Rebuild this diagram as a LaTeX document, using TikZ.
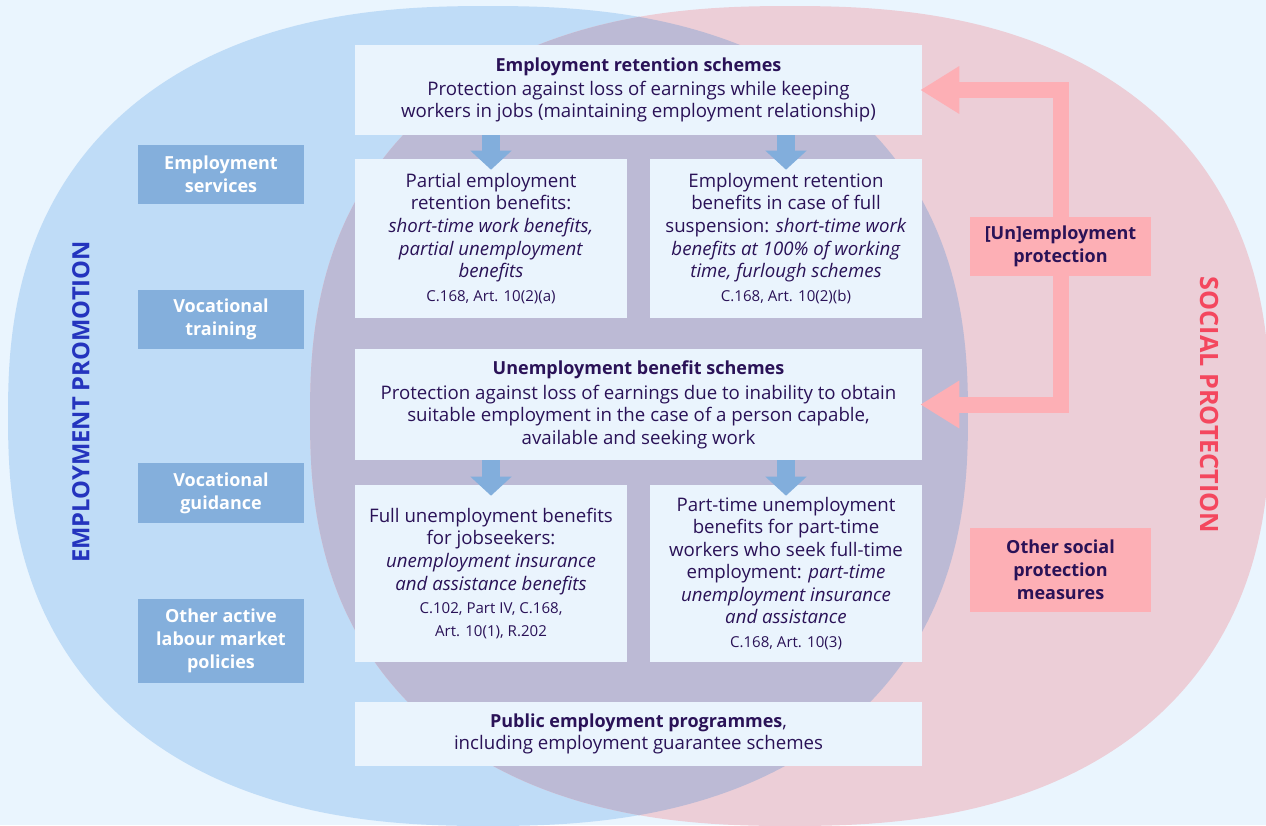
\documentclass[tikz,border=0pt]{standalone}
\usepackage{fontspec}
\setmainfont{Open Sans}
\usetikzlibrary{arrows.meta}
\definecolor{bg}{HTML}{EAF5FE}
\definecolor{blueE}{HTML}{BFDCF7}
\definecolor{pinkE}{HTML}{ECCED7}
\definecolor{overlapE}{HTML}{BCBAD5}
\definecolor{boxc}{HTML}{EAF4FD}
\definecolor{lboxc}{HTML}{84AFDC}
\definecolor{pboxc}{HTML}{FDAFB5}
\definecolor{txt}{HTML}{2A1257}
\definecolor{eptitle}{HTML}{2434BE}
\definecolor{sptitle}{HTML}{F4475E}
\definecolor{arrowblue}{HTML}{82AEDC}
\newcommand\mainf{\fontsize{14pt}{16.9pt}\selectfont}
\newcommand\headf{\fontsize{13.5pt}{17.3pt}\selectfont\bfseries}
\newcommand\smallf{\fontsize{11.3pt}{15pt}\selectfont}
\begin{document}
\begin{tikzpicture}[x=0.75pt,y=-0.75pt,
  wbox/.style={fill=boxc, inner sep=0pt, align=center, text=txt, font=\mainf},
  lbox/.style={fill=lboxc, inner sep=0pt, align=center, text=white, font=\headf,
    minimum width=124.5pt},
  pbox/.style={fill=pboxc, inner sep=0pt, align=center, text=txt, font=\headf,
    minimum width=135.75pt},
  barrow/.style={draw=arrowblue, line width=13.5pt,
    -{Triangle[width=30pt,length=14.25pt]}, shorten >=-8.25pt},
  parrow/.style={draw=pboxc, line width=12pt,
    -{Triangle[width=33.75pt,length=29.25pt]}, shorten >=-1.5pt}
]
\fill[bg] (0,0) rectangle (1266,825);
\useasboundingbox (0,0) rectangle (1266,825);
% circles
\fill[blueE] plot[domain=0.5:359.5,samples=360]
  ({488+480*cos(\x)*pow(abs(cos(\x)),-0.1667)},{416+410*sin(\x)*pow(abs(sin(\x)),-0.1667)}) -- cycle;
\fill[pinkE] plot[domain=0.5:359.5,samples=360]
  ({790+480*cos(\x)*pow(abs(cos(\x)),-0.1667)},{416+410*sin(\x)*pow(abs(sin(\x)),-0.1667)}) -- cycle;
\begin{scope}
\clip plot[domain=0.5:359.5,samples=360]
  ({488+480*cos(\x)*pow(abs(cos(\x)),-0.1667)},{416+410*sin(\x)*pow(abs(sin(\x)),-0.1667)}) -- cycle;
\fill[overlapE] plot[domain=0.5:359.5,samples=360]
  ({790+480*cos(\x)*pow(abs(cos(\x)),-0.1667)},{416+410*sin(\x)*pow(abs(sin(\x)),-0.1667)}) -- cycle;
\end{scope}
% titles
\node[rotate=90, text=eptitle, font=\fontsize{17.8pt}{20pt}\selectfont\bfseries] (ept) at (81,402) {EMPLOYMENT PROMOTION};
\node[rotate=-90, text=sptitle, font=\fontsize{18.9pt}{20pt}\selectfont\bfseries] (spt) at (1209,405) {SOCIAL PROTECTION};
% central boxes
\node[wbox, minimum width=425.25pt, minimum height=67.5pt] (top) at (638.5,90)
  {{\headf Employment retention schemes}\\[1pt]Protection against loss of earnings while keeping\\workers in jobs (maintaining employment relationship)};
\node[wbox, minimum width=204pt, minimum height=119.25pt] (partial) at (491,238.5)
  {Partial employment\\retention benefits:\\\textit{short-time work benefits,}\\\textit{partial unemployment}\\\textit{benefits}\\[1pt]{\smallf C.168, Art. 10(2)(a)}};
\node[wbox, minimum width=204pt, minimum height=119.25pt] (fullsusp) at (786,238.5)
  {Employment retention\\benefits in case of full\\suspension: \textit{short-time work}\\\textit{benefits at 100\% of working}\\\textit{time, furlough schemes}\\[1pt]{\smallf C.168, Art. 10(2)(b)}};
\node[wbox, minimum width=425.25pt, minimum height=83.25pt] (ubs) at (638.5,404.5)
  {{\headf Unemployment benefit schemes}\\[2pt]Protection against loss of earnings due to inability to obtain\\suitable employment in the case of a person capable,\\available and seeking work};
\node[wbox, minimum width=204pt, minimum height=132.75pt] (fullun) at (491,573.5)
  {Full unemployment benefits\\for jobseekers:\\\textit{unemployment insurance}\\\textit{and assistance benefits}\\[1pt]{\smallf C.102, Part IV, C.168,}\\{\smallf Art. 10(1), R.202}};
\node[wbox, minimum width=204pt, minimum height=132.75pt] (parttime) at (786,573.5)
  {Part-time unemployment\\benefits for part-time\\workers who seek full-time\\employment: \textit{part-time}\\\textit{unemployment insurance}\\\textit{and assistance}\\[1pt]{\smallf C.168, Art. 10(3)}};
\node[wbox, minimum width=425.25pt, minimum height=48pt] (public) at (638.5,734)
  {{\headf Public employment programmes},\\including employment guarantee schemes};
% left boxes
\node[lbox, minimum height=44.25pt] (es) at (221,174.5) {Employment\\services};
\node[lbox, minimum height=44.25pt] (vt) at (221,319.5) {Vocational\\training};
\node[lbox, minimum height=45pt] (vg) at (221,493) {Vocational\\guidance};
\node[lbox, minimum height=63pt] (oalmp) at (221,641) {Other active\\labour market\\policies};
% right boxes
\node[pbox, minimum height=44.25pt] (unemp) at (1060.5,246.5) {[Un]employment\\protection};
\node[pbox, minimum height=63pt] (osp) at (1060.5,570) {Other social\\protection\\measures};
% arrows
\draw[barrow] (top.south -| partial.north) -- (partial.north);
\draw[barrow] (top.south -| fullsusp.north) -- (fullsusp.north);
\draw[barrow] (ubs.south -| fullun.north) -- (fullun.north);
\draw[barrow] (ubs.south -| parttime.north) -- (parttime.north);
\draw[parrow] (unemp.north) |- (top.east);
\draw[parrow] (unemp.south) |- (ubs.east);
\end{tikzpicture}
\end{document}
